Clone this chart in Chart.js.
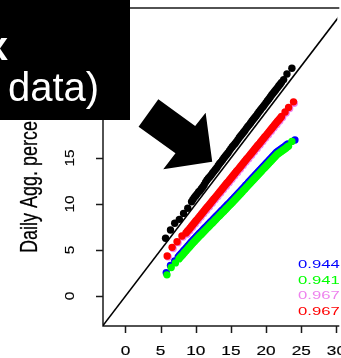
<!DOCTYPE html>
<html>
<head>
<meta charset="utf-8">
<script src="https://cdn.jsdelivr.net/npm/chart.js@4/dist/chart.umd.min.js"></script>
<style>
  html, body { margin: 0; padding: 0; background: #ffffff; overflow: hidden; }
  #wrap { width: 341px; height: 358px; position: relative; }
</style>
</head>
<body>
<div id="wrap"><canvas id="qq" width="341" height="358"></canvas></div>
<script>
// Quantile pairs per series (x = reference quantile, y = daily aggregate percentile)
const blackX = [5.70, 6.40, 7.00, 7.66, 8.26, 8.86, 9.40, 9.60, 9.80, 10.00, 10.20, 10.40, 10.60, 10.80, 11.00, 11.20, 11.40, 11.60, 11.80, 12.00, 12.20, 12.40, 12.60, 12.80, 13.00, 13.20, 13.40, 13.60, 13.80, 14.00, 14.20, 14.40, 14.60, 14.80, 15.00, 15.20, 15.40, 15.60, 15.80, 16.00, 16.20, 16.40, 16.60, 16.80, 17.00, 17.20, 17.40, 17.60, 17.80, 18.00, 18.20, 18.40, 18.60, 18.80, 19.00, 19.20, 19.40, 19.60, 19.80, 20.00, 20.20, 20.40, 20.60, 20.80, 21.00, 21.20, 21.40, 21.60, 21.80, 22.00, 22.20, 22.50, 22.97, 23.67];
const blackY = [6.27, 7.17, 7.90, 8.33, 8.98, 9.53, 10.25, 10.50, 10.72, 10.90, 11.10, 11.30, 11.45, 11.66, 11.85, 12.10, 12.38, 12.60, 12.80, 12.96, 13.15, 13.36, 13.55, 13.75, 13.95, 14.18, 14.40, 14.58, 14.78, 15.00, 15.20, 15.38, 15.58, 15.80, 16.02, 16.22, 16.40, 16.58, 16.78, 17.00, 17.22, 17.42, 17.60, 17.80, 18.00, 18.22, 18.42, 18.60, 18.80, 19.02, 19.22, 19.40, 19.60, 19.82, 20.02, 20.22, 20.42, 20.60, 20.80, 21.02, 21.22, 21.42, 21.62, 21.84, 22.04, 22.22, 22.42, 22.62, 22.82, 23.02, 23.22, 23.52, 24.13, 24.75];

const redX = [5.93, 6.63, 7.33, 8.03, 8.60, 8.80, 9.00, 9.20, 9.40, 9.60, 9.80, 10.00, 10.20, 10.40, 10.60, 10.80, 11.00, 11.20, 11.40, 11.60, 11.80, 12.00, 12.20, 12.40, 12.60, 12.80, 13.00, 13.20, 13.40, 13.60, 13.80, 14.00, 14.20, 14.40, 14.60, 14.80, 15.00, 15.20, 15.40, 15.60, 15.80, 16.00, 16.20, 16.40, 16.60, 16.80, 17.00, 17.20, 17.40, 17.60, 17.80, 18.00, 18.20, 18.40, 18.60, 18.80, 19.00, 19.20, 19.40, 19.60, 19.80, 20.00, 20.20, 20.40, 20.60, 20.80, 21.00, 21.20, 21.40, 21.60, 21.80, 22.00, 22.20, 22.70, 23.20, 23.90];
const redY = [4.35, 5.29, 5.90, 6.52, 6.84, 7.03, 7.21, 7.40, 7.58, 7.77, 7.96, 8.15, 8.33, 8.52, 8.70, 8.89, 9.08, 9.26, 9.45, 9.64, 9.82, 10.01, 10.19, 10.38, 10.57, 10.75, 10.94, 11.13, 11.31, 11.50, 11.69, 11.87, 12.06, 12.25, 12.43, 12.62, 12.80, 12.99, 13.18, 13.36, 13.55, 13.74, 13.92, 14.11, 14.30, 14.48, 14.67, 14.86, 15.04, 15.23, 15.41, 15.60, 15.79, 15.97, 16.16, 16.35, 16.53, 16.72, 16.90, 17.09, 17.28, 17.46, 17.65, 17.84, 18.02, 18.21, 18.40, 18.58, 18.77, 18.96, 19.14, 19.33, 19.52, 20.00, 20.50, 21.10];

const violetX = [6.08, 6.78, 7.48, 8.18, 8.75, 9.15, 9.55, 9.95, 10.35, 10.75, 11.15, 11.55, 11.95, 12.35, 12.75, 13.15, 13.55, 13.95, 14.35, 14.75, 15.15, 15.55, 15.95, 16.35, 16.75, 17.15, 17.55, 17.95, 18.35, 18.75, 19.15, 19.55, 19.95, 20.35, 20.75, 21.15, 21.55, 21.95, 22.35, 22.85, 23.35, 24.00];
const violetY = [4.25, 5.15, 5.80, 6.40, 6.72, 7.10, 7.46, 7.84, 8.21, 8.58, 8.96, 9.33, 9.70, 10.07, 10.45, 10.82, 11.19, 11.57, 11.94, 12.31, 12.68, 13.06, 13.43, 13.80, 14.18, 14.55, 14.92, 15.29, 15.67, 16.04, 16.41, 16.78, 17.16, 17.53, 17.90, 18.28, 18.65, 19.02, 19.40, 19.88, 20.38, 20.95];

const greenX = [5.90, 6.50, 7.10, 7.60, 7.80, 8.00, 8.20, 8.40, 8.60, 8.80, 9.00, 9.20, 9.40, 9.60, 9.80, 10.00, 10.20, 10.40, 10.60, 10.80, 11.00, 11.20, 11.40, 11.60, 11.80, 12.00, 12.20, 12.40, 12.60, 12.80, 13.00, 13.20, 13.40, 13.60, 13.80, 14.00, 14.20, 14.40, 14.60, 14.80, 15.00, 15.20, 15.40, 15.60, 15.80, 16.00, 16.20, 16.40, 16.60, 16.80, 17.00, 17.20, 17.40, 17.60, 17.80, 18.00, 18.20, 18.40, 18.60, 18.80, 19.00, 19.20, 19.40, 19.60, 19.80, 20.00, 20.20, 20.40, 20.60, 20.80, 21.00, 21.20, 21.40, 21.60, 21.80, 22.00, 22.20, 22.40, 22.60, 22.80, 23.00, 23.20, 23.67];
const greenY = [2.30, 3.10, 3.60, 4.03, 4.21, 4.38, 4.55, 4.72, 4.90, 5.07, 5.24, 5.41, 5.59, 5.76, 5.93, 6.10, 6.26, 6.41, 6.57, 6.72, 6.88, 7.04, 7.19, 7.35, 7.51, 7.66, 7.82, 7.97, 8.13, 8.29, 8.44, 8.60, 8.76, 8.91, 9.07, 9.22, 9.38, 9.54, 9.69, 9.85, 10.01, 10.16, 10.32, 10.48, 10.65, 10.82, 10.98, 11.15, 11.31, 11.48, 11.64, 11.81, 11.97, 12.14, 12.30, 12.47, 12.63, 12.80, 12.96, 13.13, 13.29, 13.46, 13.62, 13.79, 13.95, 14.11, 14.27, 14.43, 14.59, 14.75, 14.92, 15.08, 15.24, 15.40, 15.51, 15.62, 15.74, 15.85, 15.96, 16.07, 16.19, 16.30, 16.80];

const blueX = [5.80, 6.40, 7.00, 7.50, 7.70, 7.90, 8.10, 8.30, 8.50, 8.70, 8.90, 9.10, 9.30, 9.50, 9.70, 9.90, 10.10, 10.30, 10.50, 10.70, 10.90, 11.10, 11.30, 11.50, 11.70, 11.90, 12.10, 12.30, 12.50, 12.70, 12.90, 13.10, 13.30, 13.50, 13.70, 13.90, 14.10, 14.30, 14.50, 14.70, 14.90, 15.10, 15.30, 15.50, 15.70, 15.90, 16.10, 16.30, 16.50, 16.70, 16.90, 17.10, 17.30, 17.50, 17.70, 17.90, 18.10, 18.30, 18.50, 18.70, 18.90, 19.10, 19.30, 19.50, 19.70, 19.90, 20.10, 20.30, 20.50, 20.70, 20.90, 21.10, 21.30, 21.50, 21.70, 21.90, 22.10, 22.30, 22.50, 22.70, 22.90, 23.10, 24.10];
const blueY = [2.52, 3.32, 3.82, 4.25, 4.43, 4.60, 4.77, 4.94, 5.12, 5.29, 5.46, 5.63, 5.81, 5.98, 6.15, 6.32, 6.48, 6.63, 6.79, 6.94, 7.10, 7.26, 7.41, 7.57, 7.73, 7.88, 8.04, 8.19, 8.35, 8.51, 8.66, 8.82, 8.98, 9.13, 9.29, 9.44, 9.60, 9.76, 9.91, 10.07, 10.23, 10.38, 10.54, 10.70, 10.87, 11.04, 11.20, 11.37, 11.53, 11.70, 11.86, 12.03, 12.19, 12.36, 12.52, 12.69, 12.85, 13.02, 13.18, 13.35, 13.51, 13.68, 13.84, 14.01, 14.17, 14.33, 14.49, 14.65, 14.81, 14.97, 15.14, 15.30, 15.46, 15.62, 15.73, 15.84, 15.96, 16.07, 16.18, 16.29, 16.41, 16.52, 16.96];

// Reference diagonal y = x
const diagX = [-5, 40];
const diagY = [-5, 40];

// Axis ticks
const xTicks = [0, 5, 10, 15, 20, 25, 30];
const yTicks = [0, 5, 10, 15, 20, 25, 30];

// Correlation labels shown at the lower right
const corrLabels = ['0.944', '0.941', '0.967', '0.967'];
const corrColors = ['#0000ff', '#00ff00', '#ee82ee', '#ff0000'];

// Callout arrow outline, in data units
const arrowX = [4.67, 9.91, 11.40, 12.34, 5.37, 7.11, 1.86];
const arrowY = [21.38, 18.48, 19.92, 14.60, 13.77, 15.51, 18.40];

const yTitle = 'Daily Agg. percentile';

function pairs(xs, ys) { return xs.map((x, i) => ({ x: x, y: ys[i] })); }

function pointSet(label, xs, ys, color, order) {
  return {
    label: label,
    data: pairs(xs, ys),
    backgroundColor: color,
    borderColor: color,
    borderWidth: 0,
    pointRadius: 3.7,
    pointHoverRadius: 3.7,
    showLine: false,
    order: order
  };
}

function drawText(ctx, text, x, y, opt) {
  ctx.save();
  ctx.translate(x, y);
  ctx.rotate(opt.rot || 0);
  ctx.scale(opt.sx || 1, opt.sy || 1);
  ctx.font = opt.font;
  ctx.fillStyle = opt.color || '#000';
  ctx.textAlign = opt.align || 'center';
  ctx.textBaseline = 'alphabetic';
  ctx.fillText(text, 0, 0);
  if (opt.stroke) {
    ctx.strokeStyle = opt.color || '#000';
    ctx.lineWidth = opt.stroke;
    ctx.strokeText(text, 0, 0);
  }
  ctx.restore();
}

const framePlugin = {
  id: 'frame',
  beforeDatasetsDraw(chart) {
    const ctx = chart.ctx, a = chart.chartArea;
    const xs = chart.scales.x, ys = chart.scales.y;
    ctx.save();
    ctx.strokeStyle = '#1a1a1a';
    ctx.lineWidth = 1.5;
    ctx.beginPath();
    ctx.moveTo(a.right + 2, a.top);
    ctx.lineTo(a.left, a.top);
    ctx.lineTo(a.left, a.bottom);
    ctx.lineTo(a.right + 2, a.bottom);
    ctx.stroke();
    ctx.beginPath();
    xTicks.forEach(v => {
      const px = Math.round(xs.getPixelForValue(v)) + 0.5;
      ctx.moveTo(px, a.bottom);
      ctx.lineTo(px, a.bottom + 7);
    });
    yTicks.forEach(v => {
      const py = Math.round(ys.getPixelForValue(v)) + 0.5;
      ctx.moveTo(a.left, py);
      ctx.lineTo(a.left - 7, py);
    });
    ctx.stroke();
    ctx.restore();

    xTicks.forEach(v => {
      drawText(ctx, String(v), xs.getPixelForValue(v), a.bottom + 28.5,
        { font: '12.5px "Liberation Sans", Arial, sans-serif', sx: 1.38, stroke: 0.15 });
    });
    yTicks.forEach(v => {
      drawText(ctx, String(v), a.left - 29, ys.getPixelForValue(v),
        { font: '13.5px "Liberation Sans", Arial, sans-serif', sx: 1.15, rot: -Math.PI / 2, stroke: 0.15 });
    });
    drawText(ctx, yTitle, 36.5, 253,
      { font: '18px "Liberation Sans", Arial, sans-serif', sy: 1.3, rot: -Math.PI / 2, align: 'left', stroke: 0.2 });

    corrLabels.forEach((t, i) => {
      drawText(ctx, t, 298, 268 + i * 15.6,
        { font: '11.5px "Liberation Sans", Arial, sans-serif', sx: 1.45, align: 'left', color: corrColors[i] });
    });
  },
  afterDraw(chart) {
    const ctx = chart.ctx;
    const xs = chart.scales.x, ys = chart.scales.y;
    ctx.save();
    ctx.fillStyle = '#000';
    ctx.beginPath();
    arrowX.forEach((v, i) => {
      const px = xs.getPixelForValue(v), py = ys.getPixelForValue(arrowY[i]);
      if (i === 0) ctx.moveTo(px, py); else ctx.lineTo(px, py);
    });
    ctx.closePath();
    ctx.fill();
    ctx.fillRect(0, 0, 130, 120);
    ctx.restore();
    drawText(ctx, 'x', 8, 60, { font: 'bold 40px "Liberation Sans", Arial, sans-serif', align: 'right', color: '#ffffff' });
    drawText(ctx, 'data)', 8, 101, { font: '40px "Liberation Sans", Arial, sans-serif', align: 'left', color: '#ffffff' });
  }
};

new Chart(document.getElementById('qq'), {
  type: 'scatter',
  data: {
    datasets: [
      {
        type: 'line',
        label: 'y = x',
        data: pairs(diagX, diagY),
        borderColor: '#000000',
        borderWidth: 1.6,
        pointRadius: 0,
        fill: false,
        order: 0
      },
      pointSet('black', blackX, blackY, '#000000', 1),
      pointSet('red', redX, redY, '#ff0000', 2),
      pointSet('violet', violetX, violetY, '#ee82ee', 3),
      pointSet('green', greenX, greenY, '#00ff00', 4),
      pointSet('blue', blueX, blueY, '#0000ff', 5)
    ]
  },
  options: {
    responsive: false,
    animation: false,
    events: [],
    layout: { padding: { left: 103, top: 8, right: 0, bottom: 32 } },
    plugins: { legend: { display: false }, tooltip: { enabled: false } },
    scales: {
      x: { type: 'linear', min: -3.2, max: 30.13, display: false },
      y: { type: 'linear', min: -3.26, max: 31.3, display: false }
    }
  },
  plugins: [framePlugin]
});
</script>
</body>
</html>
